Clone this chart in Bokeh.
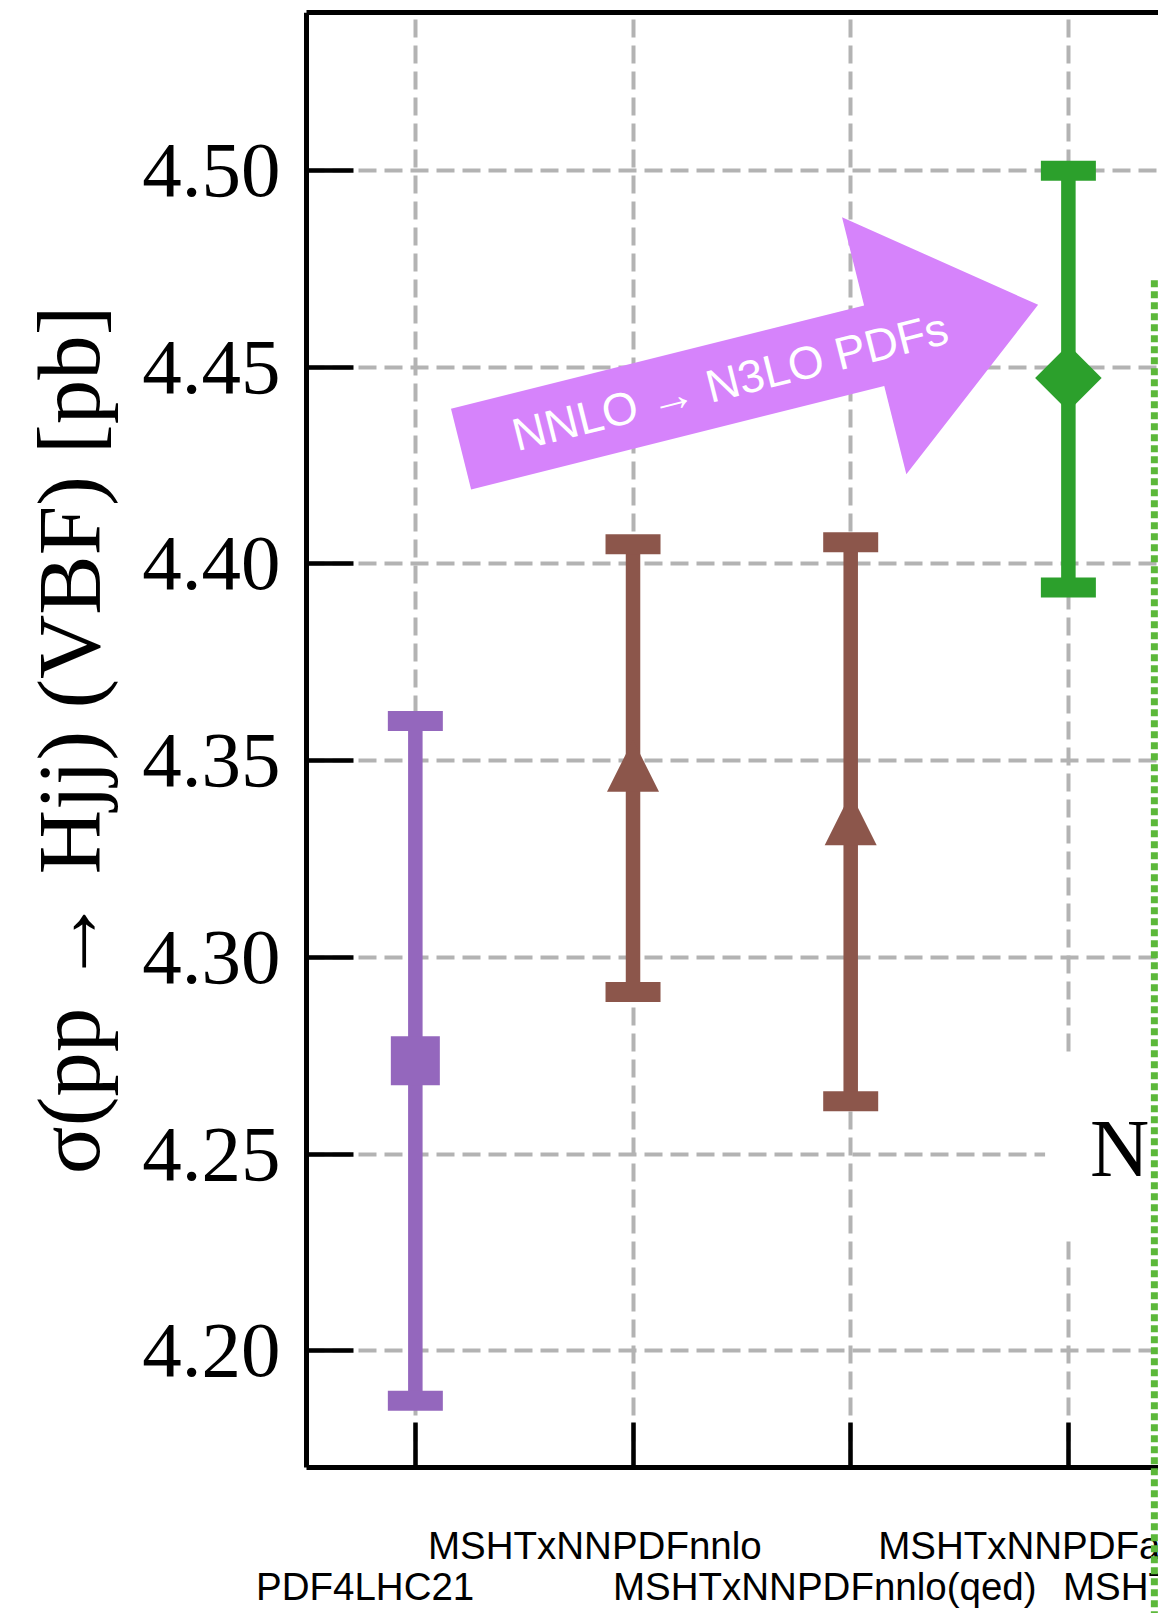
import math

from bokeh.embed import file_html
from bokeh.models import (Arrow, FixedTicker, Label, LinearAxis,
                          NumeralTickFormatter, Range1d)
from bokeh.plotting import figure
from bokeh.resources import INLINE

# PDF sets along the x axis (the last one sits beyond the visible frame)
pdf_sets = ["PDF4LHC21", "MSHTxNNPDFnnlo", "MSHTxNNPDFnnlo(qed)",
            "MSHTxNNPDFan3lo", "MSHTxNNPDFan3lo(qed)"]

# sigma(pp -> Hjj) (VBF) in pb: central value and PDF uncertainty band
xsec_central = [4.2737, 4.3487, 4.3351, 4.4473]
xsec_upper = [4.3601, 4.4050, 4.4055, 4.5000]
xsec_lower = [4.1873, 4.2912, 4.2634, 4.3940]

point_colors = ["#9467bd", "#8c564b", "#8c564b", "#2ca02c"]
point_markers = ["square", "triangle", "triangle", "diamond"]

y_ticks = [4.20, 4.25, 4.30, 4.35, 4.40, 4.45, 4.50]

# ---- canvas / frame geometry -------------------------------------------
# The frame covers the whole canvas; the axes are pinned at fixed data
# locations so that the set names, the y label and the group separator
# can be drawn outside the axes box.
W, H = 1158, 1613
BOX_LEFT, BOX_TOP, BOX_BOTTOM = 306, 12, 1467   # axes box in pixels
X_AXIS, X1 = -0.5, 3.414
Y_AXIS, Y1 = 4.1703, 4.5402
SX = (W - BOX_LEFT) / (X1 - X_AXIS)            # pixels per x unit
SY = (BOX_BOTTOM - BOX_TOP) / (Y1 - Y_AXIS)    # pixels per y unit
X0 = X_AXIS - BOX_LEFT / SX
Y0 = Y1 - (H - BOX_TOP) / SY

SERIF = "Liberation Serif"
SANS = "Liberation Sans"

p = figure(width=W, height=H, output_backend="svg", toolbar_location=None,
           x_range=Range1d(X0, X1), y_range=Range1d(Y0, Y1),
           min_border_left=0, min_border_top=BOX_TOP,
           min_border_bottom=0, min_border_right=0,
           background_fill_color="white", border_fill_color="white")
p.outline_line_color = None

# ---- axes ---------------------------------------------------------------
x_ticks = list(range(len(pdf_sets)))
p.xaxis.ticker = FixedTicker(ticks=x_ticks)
p.xaxis.fixed_location = Y_AXIS
p.xaxis.bounds = (X_AXIS, X1)
p.xaxis.major_label_overrides = {t: "" for t in x_ticks}
p.xaxis.major_label_standoff = 0
p.xaxis.major_tick_in = 45
p.xaxis.major_tick_out = 0
p.xaxis.minor_tick_in = 0
p.xaxis.minor_tick_out = 0
p.xaxis.major_tick_line_width = 4.5
p.xaxis.axis_line_width = 5
p.xaxis.major_tick_line_color = "black"
p.xaxis.axis_line_color = "black"

p.yaxis.ticker = FixedTicker(ticks=y_ticks)
p.yaxis.fixed_location = X_AXIS
p.yaxis.bounds = (Y_AXIS, Y1)
p.yaxis.formatter = NumeralTickFormatter(format="0.00")
p.yaxis.major_tick_in = 47
p.yaxis.major_tick_out = 0
p.yaxis.minor_tick_in = 0
p.yaxis.minor_tick_out = 0
p.yaxis.major_tick_line_width = 4.5
p.yaxis.axis_line_width = 5
p.yaxis.major_tick_line_color = "black"
p.yaxis.axis_line_color = "black"
p.yaxis.major_label_text_font = SERIF
p.yaxis.major_label_text_font_size = "79px"
p.yaxis.major_label_text_color = "black"
p.yaxis.major_label_standoff = 26

top = LinearAxis(ticker=FixedTicker(ticks=[]), axis_line_width=5,
                 axis_line_color="black", bounds=(X_AXIS, X1),
                 major_label_standoff=0,
                 major_tick_in=0, major_tick_out=0,
                 minor_tick_in=0, minor_tick_out=0)
p.add_layout(top, "above")

p.xgrid.cross_bounds = (Y_AXIS, Y1)
p.ygrid.cross_bounds = (X_AXIS, X1)
for g in (p.xgrid, p.ygrid):
    g.grid_line_color = "#b3b3b3"
    g.grid_line_width = 4
    g.grid_line_dash = "18 8"

# y axis title, centred on the axes box
p.add_layout(Label(x=X0 + 68 / SX, y=(Y_AXIS + Y1) / 2,
                   text="σ(pp → Hjj) (VBF) [pb]", angle=math.pi / 2,
                   text_align="center", text_baseline="middle",
                   text_font=SERIF, text_font_size="89px",
                   text_color="black"))

# ---- arrow annotation NNLO -> N3LO ------------------------------------
arrow_tail = (0.210, 4.4292)
arrow_tip = (2.861, 4.4659)
shaft_w, head_w, head_len = 83.0, 265.0, 169.0   # pixels
tx, ty = arrow_tail[0] * SX, arrow_tail[1] * SY
hx, hy = arrow_tip[0] * SX, arrow_tip[1] * SY
L = math.hypot(hx - tx, hy - ty)
ux, uy = (hx - tx) / L, (hy - ty) / L
nx, ny = -uy, ux
bx, by = hx - ux * head_len, hy - uy * head_len
poly = [
    (tx + nx * shaft_w / 2, ty + ny * shaft_w / 2),
    (bx + nx * shaft_w / 2, by + ny * shaft_w / 2),
    (bx + nx * head_w / 2, by + ny * head_w / 2),
    (hx, hy),
    (bx - nx * head_w / 2, by - ny * head_w / 2),
    (bx - nx * shaft_w / 2, by - ny * shaft_w / 2),
    (tx - nx * shaft_w / 2, ty - ny * shaft_w / 2),
]
p.patch([q[0] / SX for q in poly], [q[1] / SY for q in poly],
        fill_color="#d683fb", line_color=None)
arrow_angle = math.atan2(hy - ty, hx - tx)
p.add_layout(Label(x=1.4458, y=4.4464, text="NNLO → N3LO PDFs",
                   angle=arrow_angle, text_align="center",
                   text_baseline="middle", text_color="white",
                   text_font=SANS, text_font_size="46px"))

# ---- error bars + central markers ----------------------------------------
cap_w, cap_h, bar_w = 55, 20, 14.5
tri_half = 26.0
for i, (c, lo, hi, col, mk) in enumerate(zip(xsec_central, xsec_lower,
                                             xsec_upper, point_colors,
                                             point_markers)):
    p.segment(x0=[i], y0=[lo], x1=[i], y1=[hi], line_color=col,
              line_width=bar_w)
    p.rect(x=[i, i], y=[lo, hi], width=cap_w, height=cap_h,
           width_units="screen", height_units="screen",
           fill_color=col, line_color=None)
    if mk == "square":
        p.scatter([i], [c], marker="square", size=49, fill_color=col,
                  line_color=None)
    elif mk == "diamond":
        p.scatter([i], [c], marker="square", size=47, angle=math.pi / 4,
                  fill_color=col, line_color=None)
    else:
        hw, hh = tri_half / SX, tri_half / SY
        p.patch([i - hw, i + hw, i], [c - hh, c - hh, c + hh],
                fill_color=col, line_color=None)

# ---- order label (white box hides the grid behind it) -------------------
p.add_layout(Label(x=2.893, y=4.2513, text="N\u2009³LO", text_align="left",
                   text_baseline="middle", text_font=SERIF,
                   text_font_size="82px", text_color="black",
                   background_fill_color="white", padding=45))

# ---- PDF set names, staggered in two rows below the axis ---------------
label_shift = [-0.732, -0.942, -1.092, -0.874, -1.025]
row_y = [4.1505, 4.1400]          # upper row, lower row (baselines)
for i, name in enumerate(pdf_sets):
    p.add_layout(Label(x=i + label_shift[i], y=row_y[(i + 1) % 2],
                       text=name, text_align="left",
                       text_baseline="alphabetic", text_font=SANS,
                       text_font_size="38.5px", text_color="black"))

# separator between the NNLO and N3LO groups
p.add_layout(Arrow(x_start=3.395, y_start=4.4721, x_end=3.395, y_end=Y0,
                   start=None, end=None, line_color="#5cb83a",
                   line_width=7, line_dash="7 4"))

open("out.html", "w").write(file_html(p, INLINE))
